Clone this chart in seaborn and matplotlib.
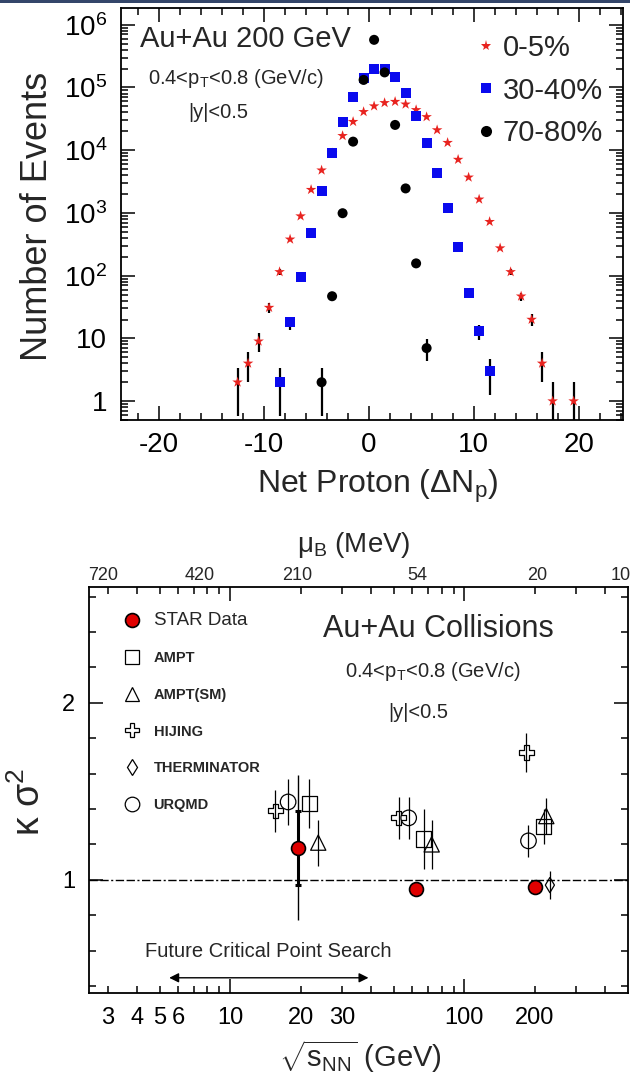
import numpy as np
import pandas as pd
import matplotlib
matplotlib.use("Agg")
import matplotlib.pyplot as plt
import seaborn as sns
from matplotlib.lines import Line2D
from matplotlib.patches import Rectangle
from matplotlib.ticker import (FixedLocator, FuncFormatter, LogLocator,
                               MultipleLocator, NullFormatter)

# ---------------- top panel: net-proton distributions, Au+Au 200 GeV ----------
centralities = ["0-5%", "30-40%", "70-80%"]

net_0_5 = [-12.5, -11.5, -10.5, -9.5, -8.5, -7.5, -6.5, -5.5, -4.5, -3.5,
           -2.5, -1.5, -0.5, 0.5, 1.5, 2.5, 3.5, 4.5, 5.5, 6.5, 7.5, 8.5,
           9.5, 10.5, 11.5, 12.5, 13.5, 14.5, 15.5, 16.5, 17.5, 19.5]
events_0_5 = [2, 4, 9, 31, 115, 380, 890, 2350, 4800, 9000, 17000, 28500,
              41000, 50500, 57000, 59500, 54000, 44000, 34000, 21000, 13200,
              7100, 3700, 1650, 725, 275, 115, 47, 20, 4, 1, 1]

net_30_40 = [-8.5, -7.5, -6.5, -5.5, -4.5, -3.5, -2.5, -1.5, -0.5, 0.5, 1.5,
             2.5, 3.5, 4.5, 5.5, 6.5, 7.5, 8.5, 9.5, 10.5, 11.5]
events_30_40 = [2, 18, 96, 480, 2250, 8900, 28500, 71000, 140000, 198000,
                198000, 145000, 81000, 35500, 13200, 4400, 1180, 283, 53, 13, 3]

net_70_80 = [-4.5, -3.5, -2.5, -1.5, -0.5, 0.5, 1.5, 2.5, 3.5, 4.5, 5.5]
events_70_80 = [2, 47, 990, 13700, 132000, 575000, 174000, 25300, 2460, 157, 7]

top_x_ticks = [-20, -10, 0, 10, 20]
top_y_ticks = [1, 10, 1e2, 1e3, 1e4, 1e5, 1e6]

# ---------------- bottom panel: kappa*sigma^2 vs sqrt(s_NN) ------------------
sqrts_star = [19.6, 62.4, 200.0]
ksig_star = [1.18, 0.95, 0.96]
ksig_star_stat = [0.41, 0.03, 0.02]
ksig_star_sys = [0.21, 0.02, 0.02]

model_names = ["AMPT", "AMPT(SM)", "HIJING", "THERMINATOR", "URQMD"]
sqrts_ampt = [21.8, 67.0, 218.0]
ksig_ampt = [1.43, 1.23, 1.30]
err_ampt = [0.14, 0.17, 0.10]
sqrts_ampt_sm = [23.8, 72.6, 224.0]
ksig_ampt_sm = [1.21, 1.20, 1.36]
err_ampt_sm = [0.13, 0.14, 0.10]
sqrts_hijing = [15.6, 52.4, 184.0]
ksig_hijing = [1.39, 1.35, 1.72]
err_hijing = [0.12, 0.12, 0.11]
sqrts_therminator = [232.0]
ksig_therminator = [0.97]
err_therminator = [0.08]
sqrts_urqmd = [17.7, 57.9, 188.0]
ksig_urqmd = [1.44, 1.35, 1.22]
err_urqmd = [0.13, 0.12, 0.09]

sqrts_major_ticks = [10, 100]
sqrts_minor_ticks = [3, 4, 5, 6, 7, 8, 9, 20, 30, 40, 50, 60, 70, 80, 90,
                     200, 300, 400]
sqrts_minor_labelled = [3, 4, 5, 6, 20, 30, 200]
mu_b_labels = ["720", "420", "210", "54", "20", "10"]
mu_b_at_sqrts = [2.86, 7.45, 19.3, 63.0, 204.0, 464.0]
search_range = [5.5, 39.0]

# ---------------- style ----------------------------------------------------
sns.set_style("ticks")
plt.rcParams["font.family"] = ["Liberation Sans", "DejaVu Sans"]
plt.rcParams["mathtext.fontset"] = "custom"
plt.rcParams["mathtext.rm"] = "Liberation Sans"
plt.rcParams["mathtext.it"] = "Liberation Sans:italic"
plt.rcParams["mathtext.bf"] = "Liberation Sans:bold"
plt.rcParams["mathtext.sf"] = "Liberation Sans"
plt.rcParams["axes.unicode_minus"] = False

RED = "#e8231f"
BLUE = "#0a0aee"
STAR_RED = "#e00000"

W, H = 630, 1078
fig = plt.figure(figsize=(W / 100, H / 100), dpi=100)
fig.patch.set_facecolor("white")
fig.add_artist(Rectangle((0, 1 - 3 / H), 1, 3 / H, transform=fig.transFigure,
                         color="#34466a", lw=0))


def ax_rect(l, r, t, b):
    return [l / W, 1 - b / H, (r - l) / W, (b - t) / H]


ax1 = fig.add_axes(ax_rect(121, 623, 8, 420))
ax2 = fig.add_axes(ax_rect(89, 628, 587, 993))

# ================= top panel ===============================================
df_top = pd.concat([
    pd.DataFrame({"net": net_0_5, "events": events_0_5, "centrality": centralities[0]}),
    pd.DataFrame({"net": net_30_40, "events": events_30_40, "centrality": centralities[1]}),
    pd.DataFrame({"net": net_70_80, "events": events_70_80, "centrality": centralities[2]}),
], ignore_index=True)

ax1.set_yscale("log", nonpositive="clip")
for cent, grp in df_top.groupby("centrality"):
    ax1.errorbar(grp["net"], grp["events"], yerr=np.sqrt(grp["events"]),
                 fmt="none", ecolor="black", elinewidth=1.6, capsize=0, zorder=2)

sns.scatterplot(data=df_top, x="net", y="events", hue="centrality",
                style="centrality", size="centrality",
                palette={centralities[0]: RED, centralities[1]: BLUE,
                         centralities[2]: "black"},
                markers={centralities[0]: "*", centralities[1]: "s",
                         centralities[2]: "o"},
                sizes={centralities[0]: 64, centralities[1]: 52,
                       centralities[2]: 52},
                linewidth=0, legend=False, ax=ax1, zorder=3)

ax1.set_xlim(-23.6, 24.2)
ax1.set_ylim(0.5, 1.85e6)
ax1.xaxis.set_major_locator(FixedLocator(top_x_ticks))
ax1.xaxis.set_minor_locator(MultipleLocator(2))
ax1.yaxis.set_major_locator(FixedLocator(top_y_ticks))


def log_fmt(v, pos):
    if abs(v - 1) < 1e-9:
        return "1"
    if abs(v - 10) < 1e-9:
        return "10"
    return r"$10^{%d}$" % int(round(np.log10(v)))


ax1.yaxis.set_major_formatter(FuncFormatter(log_fmt))
ax1.yaxis.set_minor_locator(LogLocator(base=10, subs=np.arange(2, 10), numticks=30))
ax1.yaxis.set_minor_formatter(NullFormatter())
ax1.tick_params(which="both", direction="in", top=True, right=True, width=1.1,
                colors="black")
ax1.tick_params(which="major", length=10, labelsize=20)
ax1.tick_params(which="minor", length=5)
ax1.tick_params(axis="x", pad=9)
ax1.tick_params(axis="y", pad=10)
for sp in ax1.spines.values():
    sp.set_linewidth(1.3)
    sp.set_color("black")

ax1.set_xlabel("Net Proton (ΔN$_\\mathrm{p}$)", fontsize=23)
ax1.xaxis.label.set_va("baseline")
ax1.xaxis.set_label_coords(0.511, (420 - 493) / 412)
ax1.set_ylabel("Number of Events", fontsize=26)
ax1.yaxis.label.set_va("baseline")
ax1.yaxis.set_label_coords((47 - 121) / 502, 0.495)

ax1.text(0.038, 0.905, "Au+Au 200 GeV", transform=ax1.transAxes, fontsize=21,
         va="baseline", ha="left")
ax1.text(0.054, 0.8155, "0.4<p$_\\mathrm{T}$<0.8 (GeV/c)", transform=ax1.transAxes,
         fontsize=14.5, va="baseline", ha="left")
ax1.text(0.133, 0.733, "|y|<0.5", transform=ax1.transAxes, fontsize=14.5,
         va="baseline", ha="left")

top_handles = [
    Line2D([], [], ls="none", marker="*", color=RED, ms=8, mew=0),
    Line2D([], [], ls="none", marker="s", color=BLUE, ms=7.5, mew=0),
    Line2D([], [], ls="none", marker="o", color="black", ms=8, mew=0),
]
ax1.legend(top_handles, centralities, loc="upper left",
           bbox_to_anchor=(0.7096, 0.937), frameon=False, fontsize=21,
           handlelength=0.6, handletextpad=0.28, labelspacing=0.5,
           borderpad=0, borderaxespad=0)

# ================= bottom panel ============================================
ax2.set_xscale("log")
ax2.axhline(1.0, color="black", lw=1.0, ls=(0, (6, 1.8, 6, 1.8, 1.5, 1.8)),
            zorder=1)

models = [
    ("AMPT", sqrts_ampt, ksig_ampt, err_ampt, "s", 120),
    ("AMPT(SM)", sqrts_ampt_sm, ksig_ampt_sm, err_ampt_sm, "^", 120),
    ("HIJING", sqrts_hijing, ksig_hijing, err_hijing, "P", 110),
    ("THERMINATOR", sqrts_therminator, ksig_therminator, err_therminator, "d", 60),
    ("URQMD", sqrts_urqmd, ksig_urqmd, err_urqmd, "o", 125),
]
for name, xs, ys, es, mk, sz in models:
    ax2.errorbar(xs, ys, yerr=es, fmt="none", ecolor="black", elinewidth=0.9,
                 capsize=0, zorder=2)
    sns.scatterplot(x=xs, y=ys, marker=mk, s=sz, color="black", linewidth=0.9,
                    ax=ax2, zorder=3, legend=False)
    coll = ax2.collections[-1]
    coll.set_facecolor("none")
    coll.set_edgecolor("black")
    coll.set_linewidth(0.9)

ax2.errorbar(sqrts_star, ksig_star, yerr=ksig_star_stat, fmt="none",
             ecolor="black", elinewidth=1.0, capsize=0, zorder=4)
ax2.errorbar(sqrts_star, ksig_star, yerr=ksig_star_sys, fmt="none",
             ecolor="black", elinewidth=2.2, capsize=2, capthick=2.2, zorder=4)
sns.scatterplot(x=sqrts_star, y=ksig_star, marker="o", s=100, color=STAR_RED,
                edgecolor="black", linewidth=1.2, ax=ax2, zorder=5, legend=False)

ax2.set_xlim(2.5, 500)
ax2.set_ylim(0.36, 2.655)
ax2.xaxis.set_major_locator(FixedLocator(sqrts_major_ticks))
ax2.xaxis.set_major_formatter(FuncFormatter(lambda v, p: "%d" % round(v)))
ax2.xaxis.set_minor_locator(FixedLocator(sqrts_minor_ticks))
ax2.xaxis.set_minor_formatter(FuncFormatter(
    lambda v, p: ("%d" % round(v)) if int(round(v)) in sqrts_minor_labelled else ""))
ax2.yaxis.set_major_locator(FixedLocator([1, 2]))
ax2.yaxis.set_major_formatter(FuncFormatter(lambda v, p: "%d" % round(v)))
ax2.yaxis.set_minor_locator(MultipleLocator(0.2))
ax2.tick_params(which="both", direction="in", top=True, right=True, width=1.1,
                colors="black", labelsize=17)
ax2.tick_params(which="major", length=10)
ax2.tick_params(which="minor", length=5)
ax2.tick_params(axis="x", which="both", pad=10)
ax2.tick_params(axis="y", pad=10)
for sp in ax2.spines.values():
    sp.set_linewidth(1.3)
    sp.set_color("black")

ax2.set_xlabel("$\\sqrt{\\mathrm{s}_{\\mathrm{NN}}}$ (GeV)", fontsize=21)
ax2.xaxis.label.set_va("baseline")
ax2.xaxis.set_label_coords(0.503, (993 - 1067) / 406)
ax2.set_ylabel("κ σ$^2$", fontsize=27)
ax2.yaxis.label.set_va("baseline")
ax2.yaxis.set_label_coords((40 - 89) / 539, (993 - 802) / 406)

# top (mu_B) axis labels
xt = ax2.get_xaxis_transform()
for lab, xs in zip(mu_b_labels, mu_b_at_sqrts):
    ax2.text(xs, (993 - 580) / 406, lab, transform=xt, ha="center",
             va="baseline", fontsize=13)
ax2.text(0.491, (993 - 552) / 406, "μ$_\\mathrm{B}$ (MeV)", transform=ax2.transAxes,
         ha="center", va="baseline", fontsize=20)

ax2.text(0.434, 0.877, "Au+Au Collisions", transform=ax2.transAxes, fontsize=22,
         va="baseline", ha="left")
ax2.text(0.475, 0.778, "0.4<p$_\\mathrm{T}$<0.8 (GeV/c)", transform=ax2.transAxes,
         fontsize=14.5, va="baseline", ha="left")
ax2.text(0.555, 0.677, "|y|<0.5", transform=ax2.transAxes, fontsize=14.5,
         va="baseline", ha="left")
ax2.text(0.104, 0.0887, "Future Critical Point Search", transform=ax2.transAxes,
         fontsize=14.5, va="baseline", ha="left")
ax2.annotate("", xy=(search_range[1], 0.446), xytext=(search_range[0], 0.446),
             arrowprops=dict(arrowstyle="<|-|>", color="black", lw=1.0,
                             mutation_scale=14, shrinkA=0, shrinkB=0))

bottom_handles = [
    Line2D([], [], ls="none", marker="o", mfc=STAR_RED, mec="black", ms=10, mew=1.2),
    Line2D([], [], ls="none", marker="s", mfc="none", mec="black", ms=10.5, mew=0.9),
    Line2D([], [], ls="none", marker="^", mfc="none", mec="black", ms=10.5, mew=0.9),
    Line2D([], [], ls="none", marker="P", mfc="none", mec="black", ms=10, mew=0.9),
    Line2D([], [], ls="none", marker="d", mfc="none", mec="black", ms=8, mew=0.9),
    Line2D([], [], ls="none", marker="o", mfc="none", mec="black", ms=10.5, mew=0.9),
]
leg2 = ax2.legend(bottom_handles, ["STAR Data"] + model_names, loc="upper left",
                  bbox_to_anchor=(0.0662, 0.939), frameon=False,
                  prop={"size": 10.5, "weight": "bold"},
                  handlelength=1.0, handletextpad=0.98, labelspacing=1.55,
                  borderpad=0, borderaxespad=0)
leg2.get_texts()[0].set_fontsize(13.5)
leg2.get_texts()[0].set_fontweight("normal")

fig.savefig("out.png", dpi=100)
